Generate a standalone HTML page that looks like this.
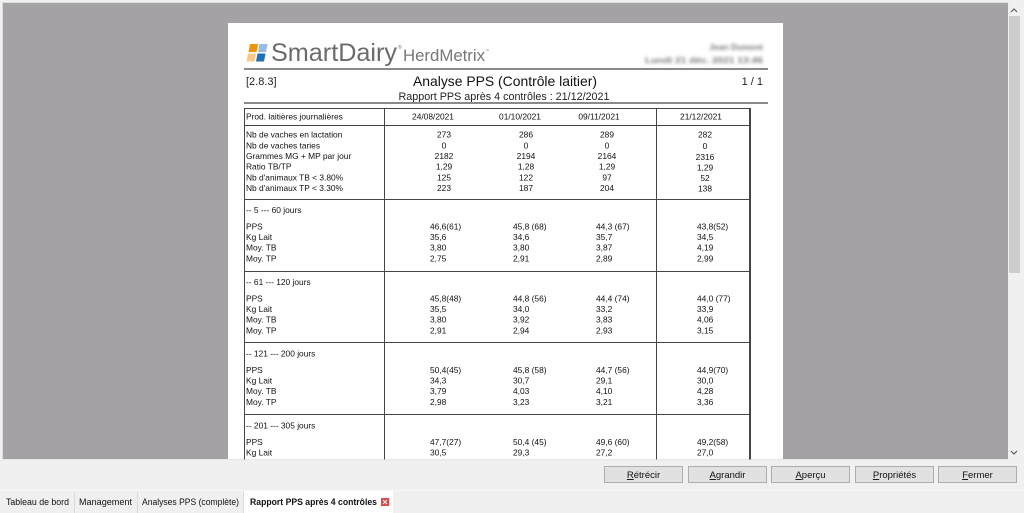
<!DOCTYPE html>
<html><head><meta charset="utf-8">
<style>
html,body{margin:0;padding:0;background:#f0f0f0;}
svg{display:block;}
text{font-family:"Liberation Sans",sans-serif;}
</style></head>
<body>
<svg width="1024" height="513" viewBox="0 0 1024 513" xmlns="http://www.w3.org/2000/svg">
<defs>
<filter id="bl" x="-20%" y="-80%" width="140%" height="260%"><feGaussianBlur stdDeviation="1.6"/></filter>
</defs>
<rect x="0" y="0" width="1024" height="513" fill="#f0f0f0"/>
<!-- gray viewer area -->
<rect x="2.5" y="2.5" width="1006" height="457" fill="#a4a2a5" stroke="#dcdcdc" stroke-width="1"/>
<!-- scrollbar -->
<rect x="1008" y="3" width="16" height="456" fill="#f0f0f0"/>
<rect x="1009" y="16" width="11" height="257" fill="#cdcdcd"/>
<polyline points="1011,12 1014,9 1017,12" fill="none" stroke="#606060" stroke-width="1.2"/>
<polyline points="1011,451 1014,454 1017,451" fill="none" stroke="#606060" stroke-width="1.2"/>

<!-- page -->
<rect x="228" y="23" width="555" height="436" fill="#ffffff"/>

<!-- logo -->
<polygon points="250,44 258,44 256.5,52 248.5,52" fill="#f39200"/>
<polygon points="259.5,44 267.5,44 266,52 258,52" fill="#93bde4"/>
<polygon points="248,53.5 256,53.5 254.5,61.5 246.5,61.5" fill="#fbc88a"/>
<polygon points="257.5,53.5 265.5,53.5 264,61.5 256,61.5" fill="#1d71b8"/>
<text x="271" y="61" font-size="25" fill="#6b6b6d" textLength="126" lengthAdjust="spacingAndGlyphs">SmartDairy</text>
<text x="398" y="49" font-size="5" fill="#777">®</text>
<text x="403" y="61" font-size="17" fill="#77777a" textLength="82" lengthAdjust="spacingAndGlyphs">HerdMetrix</text>
<text x="485" y="52" font-size="4" fill="#888">™</text>

<!-- blurred text -->
<g filter="url(#bl)" fill="#7a7a7a" font-weight="bold">
<text x="763" y="50" font-size="8.5" text-anchor="end">Jean Dumont</text>
<text x="763" y="63" font-size="8.5" text-anchor="end" textLength="118" lengthAdjust="spacingAndGlyphs">Lundi 21 déc. 2021 13:46</text>
</g>

<line x1="244" y1="69" x2="768" y2="69" stroke="#8a8a8a" stroke-width="2"/>
<text x="246" y="85" font-size="11" fill="#222">[2.8.3]</text>
<text x="505" y="86" font-size="14" fill="#111" text-anchor="middle" textLength="184" lengthAdjust="spacingAndGlyphs">Analyse PPS  (Contrôle laitier)</text>
<text x="763" y="85" font-size="11" fill="#222" text-anchor="end">1 / 1</text>
<text x="504" y="100" font-size="10.7" fill="#222" text-anchor="middle" textLength="211" lengthAdjust="spacingAndGlyphs">Rapport PPS après 4 contrôles : 21/12/2021</text>
<line x1="244" y1="103" x2="768" y2="103" stroke="#8a8a8a" stroke-width="2"/>

<!-- table lines -->
<g stroke="#454545" stroke-width="1" fill="none">
<line x1="244" y1="108.5" x2="751" y2="108.5"/>
<line x1="244" y1="125.5" x2="751" y2="125.5"/>
<line x1="244" y1="199.5" x2="751" y2="199.5"/>
<line x1="244" y1="271.5" x2="751" y2="271.5"/>
<line x1="244" y1="342.5" x2="751" y2="342.5"/>
<line x1="244" y1="414.5" x2="751" y2="414.5"/>
<line x1="244.5" y1="108" x2="244.5" y2="460"/>
<line x1="384.5" y1="108" x2="384.5" y2="460"/>
<line x1="656.5" y1="108" x2="656.5" y2="460"/>
<line x1="750" y1="108" x2="750" y2="460" stroke-width="2"/>
</g>

<g font-size="8.4" fill="#111">
<!-- header row -->
<text x="246" y="119.5">Prod. laitières journalières</text>
<g text-anchor="middle">
<text x="433" y="119.5">24/08/2021</text>
<text x="520" y="119.5">01/10/2021</text>
<text x="599" y="119.5">09/11/2021</text>
<text x="701" y="119.5">21/12/2021</text>
</g>

<!-- first section -->
<text x="246" y="137.5">Nb de vaches en lactation</text>
<text x="246" y="148.3">Nb de vaches taries</text>
<text x="246" y="159">Grammes MG + MP par jour</text>
<text x="246" y="169.7">Ratio TB/TP</text>
<text x="246" y="180.4">Nb d'animaux TB &lt; 3.80%</text>
<text x="246" y="191">Nb d'animaux TP &lt; 3.30%</text>
<g text-anchor="middle">
<text x="444" y="137.5">273</text><text x="526" y="137.5">286</text><text x="607" y="137.5">289</text><text x="705" y="137.5">282</text>
<text x="444" y="148.3">0</text><text x="526" y="148.3">0</text><text x="607" y="148.3">0</text><text x="705" y="149">0</text>
<text x="444" y="159">2182</text><text x="526" y="159">2194</text><text x="607" y="159">2164</text><text x="705" y="160">2316</text>
<text x="444" y="169.7">1,29</text><text x="526" y="169.7">1,28</text><text x="607" y="169.7">1,29</text><text x="705" y="170.5">1,29</text>
<text x="444" y="180.4">125</text><text x="526" y="180.4">122</text><text x="607" y="180.4">97</text><text x="705" y="181">52</text>
<text x="444" y="191">223</text><text x="526" y="191">187</text><text x="607" y="191">204</text><text x="705" y="191.5">138</text>
</g>

<!-- section 5-60 (L=199) -->
<text x="246" y="213">-- 5 --- 60 jours</text>
<text x="246" y="229.5">PPS</text><text x="246" y="240">Kg Lait</text><text x="246" y="250.7">Moy. TB</text><text x="246" y="261.3">Moy. TP</text>
<text x="430" y="229.5">46,6(61)</text><text x="513" y="229.5">45,8 (68)</text><text x="596" y="229.5">44,3 (67)</text><text x="697" y="229.5">43,8(52)</text>
<text x="430" y="240">35,6</text><text x="513" y="240">34,6</text><text x="596" y="240">35,7</text><text x="697" y="240">34,5</text>
<text x="430" y="250.7">3,80</text><text x="513" y="250.7">3,80</text><text x="596" y="250.7">3,87</text><text x="697" y="250.7">4,19</text>
<text x="430" y="261.3">2,75</text><text x="513" y="261.3">2,91</text><text x="596" y="261.3">2,89</text><text x="697" y="261.3">2,99</text>

<!-- section 61-120 (L=271) -->
<text x="246" y="285">-- 61 --- 120 jours</text>
<text x="246" y="301.5">PPS</text><text x="246" y="312">Kg Lait</text><text x="246" y="322.7">Moy. TB</text><text x="246" y="333.3">Moy. TP</text>
<text x="430" y="301.5">45,8(48)</text><text x="513" y="301.5">44,8 (56)</text><text x="596" y="301.5">44,4 (74)</text><text x="697" y="301.5">44,0 (77)</text>
<text x="430" y="312">35,5</text><text x="513" y="312">34,0</text><text x="596" y="312">33,2</text><text x="697" y="312">33,9</text>
<text x="430" y="322.7">3,80</text><text x="513" y="322.7">3,92</text><text x="596" y="322.7">3,83</text><text x="697" y="322.7">4,06</text>
<text x="430" y="333.3">2,91</text><text x="513" y="333.3">2,94</text><text x="596" y="333.3">2,93</text><text x="697" y="333.3">3,15</text>

<!-- section 121-200 (L=342.5) -->
<text x="246" y="356.5">-- 121 --- 200 jours</text>
<text x="246" y="373">PPS</text><text x="246" y="383.5">Kg Lait</text><text x="246" y="394.2">Moy. TB</text><text x="246" y="404.8">Moy. TP</text>
<text x="430" y="373">50,4(45)</text><text x="513" y="373">45,8 (58)</text><text x="596" y="373">44,7 (56)</text><text x="697" y="373">44,9(70)</text>
<text x="430" y="383.5">34,3</text><text x="513" y="383.5">30,7</text><text x="596" y="383.5">29,1</text><text x="697" y="383.5">30,0</text>
<text x="430" y="394.2">3,79</text><text x="513" y="394.2">4,03</text><text x="596" y="394.2">4,10</text><text x="697" y="394.2">4,28</text>
<text x="430" y="404.8">2,98</text><text x="513" y="404.8">3,23</text><text x="596" y="404.8">3,21</text><text x="697" y="404.8">3,36</text>

<!-- section 201-305 (L=414.5) -->
<text x="246" y="428.5">-- 201 --- 305 jours</text>
<text x="246" y="445">PPS</text><text x="246" y="455.5">Kg Lait</text>
<text x="430" y="445">47,7(27)</text><text x="513" y="445">50,4 (45)</text><text x="596" y="445">49,6 (60)</text><text x="697" y="445">49,2(58)</text>
<text x="430" y="455.5">30,5</text><text x="513" y="455.5">29,3</text><text x="596" y="455.5">27,2</text><text x="697" y="455.5">27,0</text>
</g>

<!-- bottom panel -->
<rect x="0" y="459.5" width="1024" height="31" fill="#f0f0f0"/>
<g stroke="#adadad" stroke-width="1" fill="#e1e1e1">
<rect x="604.5" y="466.5" width="78" height="16"/>
<rect x="688.5" y="466.5" width="78" height="16"/>
<rect x="771.5" y="466.5" width="78" height="16"/>
<rect x="855.5" y="466.5" width="78" height="16"/>
<rect x="938.5" y="466.5" width="78" height="16"/>
</g>
<g font-size="9.5" fill="#111" text-anchor="middle">
<text x="643.5" y="478"><tspan style="text-decoration:underline">R</tspan>étrécir</text>
<text x="727.5" y="478"><tspan style="text-decoration:underline">A</tspan>grandir</text>
<text x="810.5" y="478"><tspan style="text-decoration:underline">A</tspan>perçu</text>
<text x="894.5" y="478"><tspan style="text-decoration:underline">P</tspan>ropriétés</text>
<text x="977.5" y="478"><tspan style="text-decoration:underline">F</tspan>ermer</text>
</g>

<!-- tabs -->
<rect x="0" y="490" width="1024" height="23" fill="#f0f0f0"/>
<line x1="0" y1="490.5" x2="1024" y2="490.5" stroke="#f7f7f7"/>
<g stroke="#dadada">
<line x1="74.5" y1="492" x2="74.5" y2="513"/>
<line x1="137.5" y1="492" x2="137.5" y2="513"/>
<line x1="243.5" y1="492" x2="243.5" y2="513"/>
</g>
<rect x="244" y="491" width="149" height="22" fill="#ffffff"/>
<g font-size="9" fill="#111">
<text x="6" y="505" textLength="63" lengthAdjust="spacingAndGlyphs">Tableau de bord</text>
<text x="79" y="505" textLength="53" lengthAdjust="spacingAndGlyphs">Management</text>
<text x="142" y="505" textLength="97" lengthAdjust="spacingAndGlyphs">Analyses PPS (complète)</text>
<text x="250" y="505" font-weight="bold" textLength="127" lengthAdjust="spacingAndGlyphs">Rapport PPS après 4 contrôles</text>
</g>
<rect x="381" y="498" width="8" height="8" fill="#e0454a"/>
<path d="M383,500 L387,504 M387,500 L383,504" stroke="#ffffff" stroke-width="1"/>
</svg>
</body></html>
